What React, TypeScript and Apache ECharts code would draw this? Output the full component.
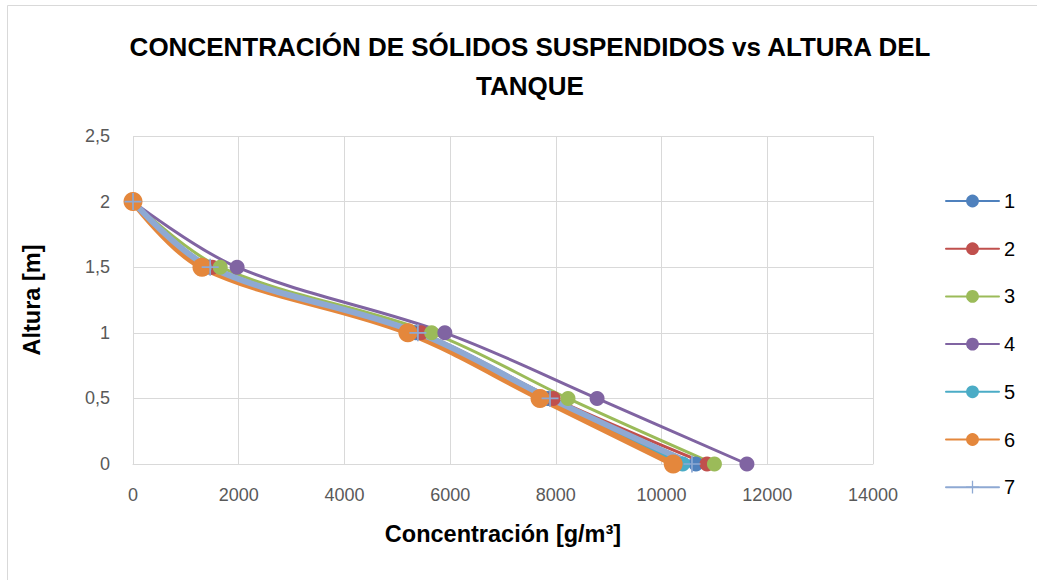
import React, { useEffect, useRef } from "react";
import * as echarts from "echarts";

const heights = [2, 1.5, 1, 0.5, 0];
const seriesNames = ["1", "2", "3", "4", "5", "6", "7"];
const conc1 = [0, 1450, 5350, 7850, 10650];
const conc2 = [0, 1500, 5450, 7950, 10860];
const conc3 = [0, 1650, 5650, 8230, 11000];
const conc4 = [0, 1970, 5900, 8780, 11615];
const conc5 = [0, 1350, 5250, 7750, 10400];
const conc6 = [0, 1305, 5200, 7700, 10220];
const conc7 = [0, 1460, 5390, 7890, 10575];
const xTicks = [0, 2000, 4000, 6000, 8000, 10000, 12000, 14000];
const yTicks = [0, 0.5, 1, 1.5, 2, 2.5];

const allConc = [conc1, conc2, conc3, conc4, conc5, conc6, conc7];
const colors = ["#4F81BD", "#C0504D", "#9BBB59", "#8064A2", "#4BACC6", "#E4873C", "#8EA9D3"];
const widths = [3, 3, 3, 3, 3, 6, 6];
const sizes = [15, 15, 15, 15, 15, 19, 17];
const PLUS = "path://M6.3,0H7.7V6.3H14V7.7H7.7V14H6.3V7.7H0V6.3H6.3Z";

const FONT = "'Liberation Sans', 'Open Sans', sans-serif";

export default function App() {
  const ref = useRef<HTMLDivElement>(null);
  useEffect(() => {
    if (!ref.current) return;
    const chart = echarts.init(ref.current, undefined, { renderer: "svg" });
    const series = allConc.map((c, i) => ({
      name: seriesNames[i],
      type: "line",
      smooth: 0.35,
      data: c.map((x, j) => [x, heights[j]]),
      symbol: i === 6 ? PLUS : "circle",
      symbolSize: sizes[i],
      showAllSymbol: true,
      lineStyle: { color: colors[i], width: widths[i], cap: "round", join: "round" },
      itemStyle: { color: colors[i], borderWidth: 0 },
      emphasis: { disabled: true },
    }));
    chart.setOption({
      animation: false,
      textStyle: { fontFamily: FONT },
      title: {
        text: "CONCENTRACIÓN DE SÓLIDOS SUSPENDIDOS vs ALTURA DEL\nTANQUE",
        left: 525,
        top: 22,
        textAlign: "center",
        textStyle: { fontSize: 26, fontWeight: "bold", color: "#000", lineHeight: 39, fontFamily: FONT },
      },
      graphic: [
        {
          type: "rect",
          shape: { x: 7.5, y: 5.5, width: 1100, height: 700 },
          style: { fill: "none", stroke: "#D9D9D9", lineWidth: 1 },
          silent: true,
        },
      ],
      legend: {
        orient: "vertical",
        left: 940,
        top: 186,
        itemWidth: 53,
        itemHeight: 16,
        itemGap: 27.7,
        data: seriesNames,
        textStyle: { fontSize: 20, color: "#000", fontFamily: FONT },
      },
      grid: { left: 133, right: 164, top: 136, bottom: 116, containLabel: false },
      xAxis: {
        type: "value",
        min: xTicks[0],
        max: xTicks[xTicks.length - 1],
        interval: 2000,
        name: "Concentración [g/m³]",
        nameLocation: "middle",
        nameGap: 58,
        nameTextStyle: { fontSize: 23.5, fontWeight: "bold", color: "#000", fontFamily: FONT },
        axisLine: { show: true, lineStyle: { color: "#D9D9D9", width: 1 } },
        axisTick: { show: false },
        axisLabel: {
          fontSize: 18,
          color: "#595959",
          margin: 22,
          fontFamily: FONT,
          formatter: (v: number) => String(v),
        },
        splitLine: { show: true, lineStyle: { color: "#D9D9D9", width: 1 } },
      },
      yAxis: {
        type: "value",
        min: yTicks[0],
        max: yTicks[yTicks.length - 1],
        interval: 0.5,
        name: "Altura [m]",
        nameLocation: "middle",
        nameGap: 89,
        nameRotate: 90,
        nameTextStyle: { fontSize: 23.5, fontWeight: "bold", color: "#000", fontFamily: FONT },
        axisLine: { show: false },
        axisTick: { show: false },
        axisLabel: {
          fontSize: 18,
          color: "#595959",
          margin: 23,
          fontFamily: FONT,
          formatter: (v: number) => String(v).replace(".", ","),
        },
        splitLine: { show: true, lineStyle: { color: "#D9D9D9", width: 1 } },
      },
      series,
    });
    return () => chart.dispose();
  }, []);
  return (
    <div
      ref={ref}
      style={{ position: "absolute", left: 0, top: 0, width: 1037, height: 580, background: "#fff" }}
    />
  );
}
